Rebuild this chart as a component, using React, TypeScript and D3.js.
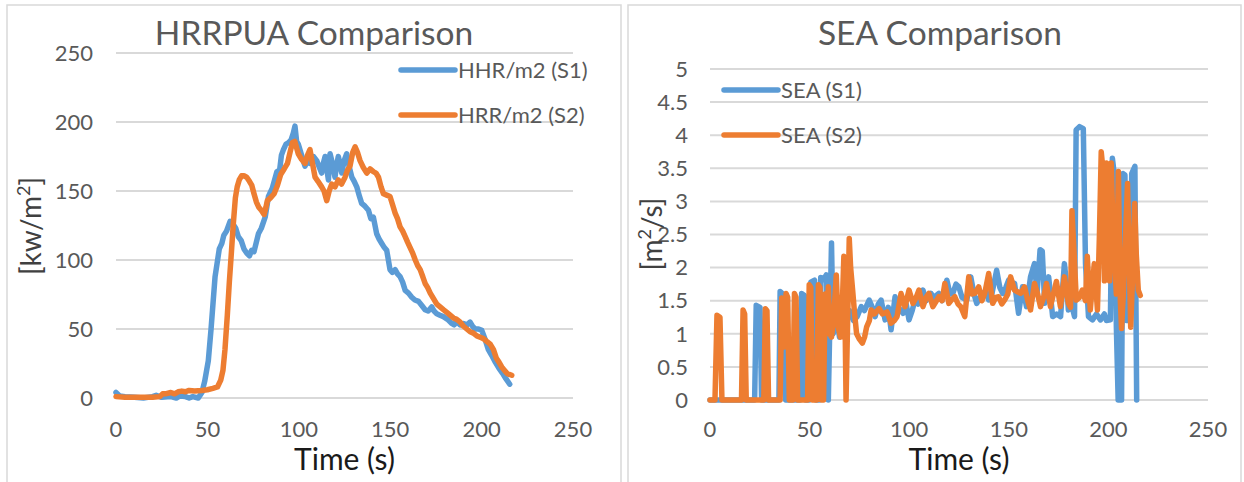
import React from "react";
import * as d3 from "d3";

// Heat release rate per unit area, kW/m² (time s, value)
const hrrS1: [number, number][] = [
  [0, 4], [2, 1.5], [5, 1], [10, 0.5], [15, 0], [20, 1], [22, 2], [25, 0.5], [30, 1], [33, 0], [35, 1.5],
  [38, 1], [40, 0], [42, 1], [45, 0], [47, 4], [48.5, 12], [50.5, 27], [52, 50], [54.2, 88], [56.5, 108],
  [57.9, 112], [59, 118], [60.5, 121], [62.4, 128], [64, 126], [65.5, 123], [66.9, 117], [68.5, 114],
  [70, 108], [71.5, 105], [73, 103], [74.2, 107], [75.5, 106], [77.9, 119], [79.5, 123], [81.6, 131],
  [83.4, 146], [85.5, 152], [88, 164], [89.5, 165], [90.5, 176], [91.6, 180], [93, 184], [94.4, 185],
  [95.8, 187], [97, 192], [97.9, 197], [98.8, 186], [99.7, 184], [101.5, 176], [103.4, 168], [104.8, 172],
  [106.1, 170], [108, 175], [109.8, 172], [111, 168], [112.5, 163], [113.4, 170], [114.4, 175], [115.3, 166],
  [116.2, 158], [117.1, 177], [118.4, 170], [119.8, 160], [120.6, 168], [121.6, 175], [122.5, 170],
  [123.5, 163], [124.8, 172], [126.2, 177], [127.5, 168], [129, 160], [130.3, 157], [131.7, 153], [133, 147],
  [134.4, 141], [136.2, 139], [138.1, 136], [139.4, 130], [140.8, 131], [142.6, 119], [144, 115],
  [145.4, 112], [146.8, 109], [148.1, 107], [149.9, 93], [151.2, 91], [152.7, 93], [154, 90], [155.4, 88],
  [156.8, 84], [158.2, 78], [160, 76], [161.8, 73], [163.5, 71], [165.5, 70], [167.3, 67], [169.1, 64],
  [170.8, 63], [172.7, 66], [174, 63], [175.5, 61], [177.2, 60], [179.1, 59], [181.4, 57], [183.7, 54],
  [185, 53], [186.4, 55.3], [188.3, 53], [190.1, 54], [192, 53], [193.7, 55], [195, 52], [196.5, 50],
  [198.3, 50], [200.1, 49], [201.8, 43], [203.7, 35], [205.5, 31], [207.5, 26], [209.3, 22], [211.4, 18],
  [213.3, 14], [215.4, 10],
];

const hrrS2: [number, number][] = [
  [0, 1], [5, 0.5], [10, 0.5], [15, 0.5], [20, 0.5], [24, 1], [25.5, 3], [27, 3], [30, 4], [32, 3],
  [34, 4.5], [36, 5], [38, 4.5], [40, 5.5], [43, 5], [47, 5.5], [50, 6], [53, 7], [55.5, 8], [57.3, 13],
  [58.5, 20], [59.6, 35], [60.9, 60], [62, 84], [63.1, 105], [64.1, 125], [65.3, 145], [66.3, 153],
  [67.4, 158], [68.7, 161], [70, 161], [71.5, 160], [73, 157], [74.3, 154], [75.5, 148], [76.8, 142],
  [78.2, 138], [79.5, 136], [81, 133], [82, 138], [82.8, 143], [84.5, 145], [86.5, 148], [88.3, 154],
  [90.1, 162], [92, 166], [93.8, 170], [95.2, 178], [96.5, 185], [97.8, 186], [99.7, 177], [101.5, 173],
  [103.4, 170], [104.8, 176], [106.1, 180], [107.5, 170], [108.9, 160], [110.5, 157], [112.5, 153],
  [113.8, 150], [115.3, 143], [116.6, 150], [118, 155], [119.8, 153], [121.6, 158], [123.4, 155],
  [125.3, 160], [126.6, 165], [128, 168], [129.5, 178], [130.8, 182], [132.1, 178], [133.5, 172],
  [135.3, 167], [137.2, 163], [139, 166], [140.8, 164], [142.2, 163], [143.6, 160], [145, 153],
  [146.3, 148], [148.1, 147], [149.9, 146], [151.3, 140], [152.7, 134], [154, 130], [155.4, 124],
  [156.8, 121], [158.2, 117], [159.5, 113], [160.9, 109], [162.3, 105], [163.7, 100], [165, 96],
  [166.4, 93], [167.8, 88], [169.1, 83], [170.5, 80], [171.9, 76], [173.7, 72], [175.5, 68], [177.3, 66],
  [179.1, 64], [181, 62], [182.8, 60], [184.6, 58], [186.4, 57], [188.3, 55], [190.1, 52], [191.9, 50],
  [193.7, 48], [195.5, 47], [197.4, 45], [199.2, 44], [201, 43], [202.8, 41], [204.7, 39], [206.5, 35],
  [208, 29], [209.5, 26], [211, 22.5], [212.5, 20], [214, 17.7], [216.5, 16.5],
];

// Smoke extinction area, m²/s (time s, value)
const seaS1: [number, number][] = [
  [0, 0], [22.4, 0], [23.2, 1.43], [25.1, 1.4], [25.9, 0], [34.6, 0], [35.2, 1.64], [36.6, 1.6], [37.2, 0.75],
  [38, 0], [45.2, 0], [46, 1.61], [47.4, 1.58], [48, 0], [50, 0], [50.6, 1.78], [52.5, 1.81], [53.2, 0],
  [55, 0], [55.6, 1.85], [57, 1.82], [58.4, 1.89], [59.4, 0], [60.4, 1.5], [61, 2.37], [61.8, 1.0],
  [62.8, 1.1], [64, 1.2], [65, 0.95], [66, 1.3], [68, 1.2], [70, 1.35], [72, 1.2], [73.9, 1.26],
  [75.9, 1.41], [77.5, 1.35], [79.9, 1.51], [81.5, 1.4], [82.9, 1.26], [84.5, 1.45], [85.9, 1.51],
  [87.9, 1.21], [89.5, 1.4], [90.9, 1.06], [92.9, 1.56], [94.5, 1.4], [96.9, 1.31], [98.5, 1.45],
  [99.9, 1.21], [101.5, 1.35], [102.9, 1.51], [104.5, 1.45], [106.9, 1.66], [108.5, 1.5], [110.9, 1.61],
  [112.5, 1.55], [114.9, 1.61], [116.5, 1.5], [118.9, 1.81], [120.5, 1.6], [121.9, 1.61], [123.5, 1.75],
  [124.9, 1.71], [126.5, 1.55], [128.9, 1.51], [130.9, 1.86], [132.5, 1.6], [133.9, 1.46], [135.5, 1.55],
  [136.9, 1.61], [138.5, 1.65], [139.9, 1.51], [141.5, 1.6], [143.9, 1.96], [145.5, 1.7], [146.9, 1.61],
  [148.5, 1.7], [149.9, 1.81], [151.5, 1.7], [152.9, 1.76], [154.9, 1.31], [156.9, 1.71], [158.9, 1.41],
  [160.9, 1.86], [162.9, 2.06], [164.2, 1.61], [165.7, 2.27], [166.8, 2.25], [168, 1.46], [170, 1.86],
  [172, 1.26], [174, 1.3], [176, 1.26], [177.9, 2.06], [179.2, 1.7], [179.9, 1.36], [181, 1.5], [183, 1.26],
  [183.8, 4.08], [185.5, 4.13], [187.4, 4.1], [188.5, 2.06], [190, 1.26], [192, 1.21], [194, 1.3],
  [196, 1.21], [198, 1.3], [199, 1.2], [201, 1.21], [202, 3.65], [203, 3.4], [204, 1.1], [204.9, 0],
  [206.6, 0], [207.4, 3.42], [208.3, 3.4], [209, 1.2], [211, 1.2], [211.7, 3.42], [213.3, 3.53], [214.2, 0],
];

const seaS2: [number, number][] = [
  [0, 0], [2.5, 0], [3.5, 1.28], [5, 1.25], [6, 0], [15.8, 0], [16.6, 1.36], [17.4, 1.3], [18.2, 0],
  [27, 0], [27.8, 1.38], [28.6, 1.35], [29.4, 0], [35.2, 0], [36, 1.54], [36.6, 1.5], [37.3, 0.8],
  [38.2, 1.61], [39, 1.55], [39.8, 0], [41.6, 0], [42.4, 1.61], [43.2, 1.55], [44, 0], [49, 0],
  [49.8, 1.74], [50.6, 1.7], [51.4, 0], [53.6, 0], [54.4, 1.74], [55.2, 1.7], [56, 0], [57, 0],
  [57.8, 1.6], [58.6, 1.0], [59.4, 1.71], [60.2, 1.0], [61, 0.95], [62, 1.2], [63.4, 1.89], [64.4, 1.1],
  [65.5, 0.95], [66.6, 1.6], [67.2, 2.17], [67.8, 1.2], [68.3, 0], [69.3, 1.5], [69.9, 2.44], [70.6, 2.0],
  [71.6, 1.66], [72.6, 1.3], [73.6, 1.0], [75, 0.92], [76.5, 0.86], [77.6, 0.95], [78.6, 1.1], [80, 1.2],
  [80.9, 1.36], [82.5, 1.3], [84.9, 1.38], [86.5, 1.3], [88.9, 1.33], [90.9, 1.16], [92.5, 1.2],
  [93.9, 1.26], [95.9, 1.61], [97.9, 1.41], [99.9, 1.66], [101.9, 1.46], [103.5, 1.55], [104.9, 1.66],
  [106.9, 1.41], [108.5, 1.55], [109.9, 1.61], [111.9, 1.41], [114.9, 1.56], [116.5, 1.5], [117.9, 1.76],
  [119.9, 1.46], [121.5, 1.52], [122.9, 1.56], [124.5, 1.45], [125.9, 1.41], [127.9, 1.26], [129.9, 1.86],
  [131.5, 1.6], [132.9, 1.61], [134.9, 1.71], [136.5, 1.5], [137.9, 1.61], [139.9, 1.91], [141.9, 1.46],
  [143.5, 1.55], [144.9, 1.56], [146.5, 1.45], [147.9, 1.51], [149.5, 1.6], [150.9, 1.86], [152.9, 1.66],
  [155.9, 1.61], [157.9, 1.71], [159.5, 1.5], [160.9, 1.36], [162.9, 1.76], [164.5, 1.6], [165.9, 1.41],
  [167.5, 1.55], [168.9, 1.76], [170.9, 1.41], [173.9, 1.79], [175.9, 1.41], [177.9, 1.86], [179.9, 1.46],
  [181, 1.4], [181.7, 2.86], [182.8, 2.2], [183.9, 1.51], [185.5, 1.55], [186.9, 1.66], [188.5, 1.5],
  [189.4, 2.17], [190.9, 1.36], [192.9, 2.06], [194.5, 1.36], [195.5, 2.5], [196.4, 3.75], [197.2, 3.5],
  [198, 1.8], [199, 3.58], [200, 2.8], [200.6, 1.8], [201.4, 3.58], [202.4, 2.5], [204, 1.6], [205, 3.45],
  [206, 1.5], [206.6, 1.08], [207.5, 1.6], [209.6, 3.27], [210.4, 2.2], [211.2, 1.1], [212.3, 2.0],
  [213.2, 2.97], [214, 2.2], [215, 1.66], [216, 1.58],
];

const timeTicks = [0, 50, 100, 150, 200, 250];
const hrrTicks = [0, 50, 100, 150, 200, 250];
const seaTicks = [0, 0.5, 1, 1.5, 2, 2.5, 3, 3.5, 4, 4.5, 5];

const hrrNames = ["HHR/m2 (S1)", "HRR/m2 (S2)"];
const seaNames = ["SEA (S1)", "SEA (S2)"];

const BLUE = "#5B9BD5";
const ORANGE = "#ED7D31";
const GRID = "#d9d9d9";
const FONT = "Lato, 'Open Sans', sans-serif";

type PanelProps = {
  frame: [number, number, number, number];
  xRange: [number, number];
  yRange: [number, number];
  yMax: number;
  yTicks: number[];
  series: [number, number][][];
  names: string[];
  title: string;
  titleX: number;
  yLabelRight: number;
  yTitleX: number;
  yTitleY: number;
  yTitleMain: string;
  yTitleSup: string;
  yTitleTail: string;
  legendX: number;
  legendY: number[];
};

function Panel(p: PanelProps) {
  const x = d3.scaleLinear().domain([0, 250]).range(p.xRange);
  const y = d3.scaleLinear().domain([0, p.yMax]).range(p.yRange);
  const line = d3
    .line<[number, number]>()
    .x((d) => x(d[0]))
    .y((d) => y(d[1]));
  const colors = [BLUE, ORANGE];
  const [fx, fy, fw, fh] = p.frame;
  const midX = (p.xRange[0] + p.xRange[1]) / 2;
  return (
    <g>
      <rect x={fx} y={fy} width={fw} height={fh} fill="#fff" stroke={GRID} strokeWidth={1.5} />
      <text x={p.titleX} y={45} textAnchor="middle" fontSize={33.5} fill="#595959" fontFamily={FONT}>
        {p.title}
      </text>
      {p.yTicks.map((t) => (
        <g key={t}>
          <line x1={p.xRange[0]} x2={p.xRange[1]} y1={y(t)} y2={y(t)} stroke={GRID} strokeWidth={2} />
          <text
            x={p.yLabelRight}
            y={y(t)}
            dy="0.35em"
            textAnchor="end"
            fontSize={22}
            fill="#595959"
            fontFamily={FONT}
          >
            {String(t)}
          </text>
        </g>
      ))}
      {timeTicks.map((t) => (
        <text key={t} x={x(t)} y={437} textAnchor="middle" fontSize={22} fill="#595959" fontFamily={FONT}>
          {String(t)}
        </text>
      ))}
      <text x={midX} y={470} textAnchor="middle" fontSize={30} fill="#1a1a1a" fontFamily={FONT}>
        Time (s)
      </text>
      <text
        transform={`translate(${p.yTitleX},${p.yTitleY}) rotate(-90)`}
        textAnchor="middle"
        fontSize={28}
        fill="#404040"
        fontFamily={FONT}
      >
        {p.yTitleMain}
        <tspan fontSize={18} dy={-11}>
          {p.yTitleSup}
        </tspan>
        <tspan dy={11}>{p.yTitleTail}</tspan>
      </text>
      {p.series.map((s, i) => (
        <path
          key={i}
          d={line(s) || ""}
          fill="none"
          stroke={colors[i]}
          strokeWidth={5.5}
          strokeLinejoin="round"
          strokeLinecap="round"
        />
      ))}
      {p.names.map((n, i) => (
        <g key={n}>
          <line
            x1={p.legendX}
            x2={p.legendX + 54}
            y1={p.legendY[i]}
            y2={p.legendY[i]}
            stroke={colors[i]}
            strokeWidth={5.5}
            strokeLinecap="round"
          />
          <text
            x={p.legendX + 57}
            y={p.legendY[i]}
            dy="0.35em"
            fontSize={22}
            fill="#595959"
            fontFamily={FONT}
          >
            {n}
          </text>
        </g>
      ))}
    </g>
  );
}

export default function App() {
  return (
    <svg
      width={1244}
      height={482}
      style={{ position: "absolute", left: 0, top: 0, background: "#fff" }}
    >
      <Panel
        frame={[7, 5, 614, 490]}
        xRange={[116, 573]}
        yRange={[398, 53]}
        yMax={250}
        yTicks={hrrTicks}
        series={[hrrS1, hrrS2]}
        names={hrrNames}
        title="HRRPUA Comparison"
        titleX={314}
        yLabelRight={93}
        yTitleX={41}
        yTitleY={226}
        yTitleMain="[kw/m"
        yTitleSup="2"
        yTitleTail="]"
        legendX={401}
        legendY={[70, 115]}
      />
      <Panel
        frame={[628, 5, 613, 490]}
        xRange={[710, 1208]}
        yRange={[400, 69]}
        yMax={5}
        yTicks={seaTicks}
        series={[seaS1, seaS2]}
        names={seaNames}
        title="SEA Comparison"
        titleX={940}
        yLabelRight={688}
        yTitleX={662}
        yTitleY={234}
        yTitleMain="[m"
        yTitleSup="2"
        yTitleTail="/s]"
        legendX={724}
        legendY={[90, 135]}
      />
    </svg>
  );
}
